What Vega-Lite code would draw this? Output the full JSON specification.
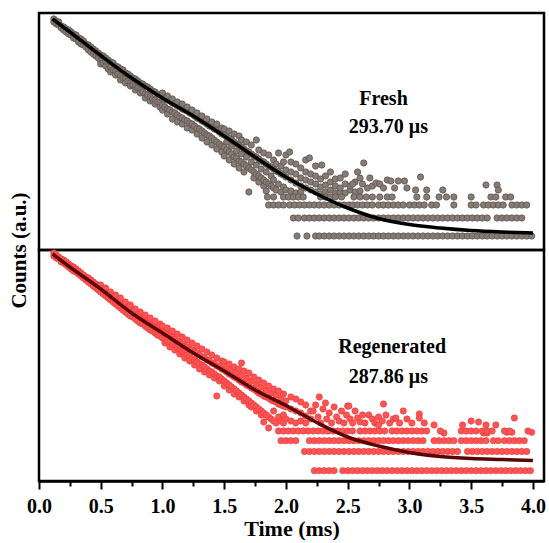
{
"$schema":"https://vega.github.io/schema/vega-lite/v6.json",
"padding":{"left":6,"top":10,"right":3,"bottom":2},
"bounds":"flush",
"spacing":0,
"config":{"view":{"stroke":"#000","strokeWidth":2.5},"font":"Liberation Serif","axis":{"grid":false}},
"datasets":{
"fresh":[
{"t":0.12,"c":231},{"t":0.12,"c":228},{"t":0.14,"c":229},{"t":0.14,"c":226},{"t":0.16,"c":228},{"t":0.16,"c":225},{"t":0.18,"c":224},{"t":0.18,"c":222},{"t":0.2,"c":223},{"t":0.2,"c":220},{"t":0.22,"c":221},{"t":0.22,"c":218},{"t":0.24,"c":220},{"t":0.24,"c":216},{"t":0.26,"c":218},{"t":0.26,"c":215},{"t":0.28,"c":216},{"t":0.28,"c":212},{"t":0.3,"c":215},{"t":0.3,"c":211},{"t":0.32,"c":212},{"t":0.32,"c":208},{"t":0.34,"c":211},{"t":0.34,"c":206},{"t":0.36,"c":209},{"t":0.36,"c":205},{"t":0.38,"c":206},{"t":0.38,"c":203},{"t":0.4,"c":205},{"t":0.4,"c":200},{"t":0.42,"c":203},{"t":0.42,"c":198},{"t":0.44,"c":201},{"t":0.44,"c":196},{"t":0.46,"c":199},{"t":0.46,"c":194},{"t":0.48,"c":197},{"t":0.48,"c":192},
{"t":0.5,"c":195},{"t":0.5,"c":189},{"t":0.5,"c":186},{"t":0.52,"c":194},{"t":0.52,"c":187},{"t":0.54,"c":192},{"t":0.54,"c":184},{"t":0.54,"c":189},{"t":0.56,"c":190},{"t":0.56,"c":181},{"t":0.58,"c":188},{"t":0.58,"c":183},{"t":0.58,"c":178},{"t":0.6,"c":187},{"t":0.6,"c":180},{"t":0.62,"c":184},{"t":0.62,"c":178},{"t":0.62,"c":175},{"t":0.64,"c":183},{"t":0.64,"c":176},{"t":0.66,"c":181},{"t":0.66,"c":174},{"t":0.66,"c":170},{"t":0.68,"c":180},{"t":0.68,"c":172},{"t":0.7,"c":177},{"t":0.7,"c":171},{"t":0.7,"c":167},{"t":0.72,"c":176},{"t":0.72,"c":169},{"t":0.74,"c":174},{"t":0.74,"c":167},{"t":0.74,"c":164},{"t":0.76,"c":172},{"t":0.76,"c":165},{"t":0.78,"c":171},{"t":0.78,"c":163},{"t":0.78,"c":160},{"t":0.8,"c":169},{"t":0.8,"c":162},{"t":0.82,"c":167},{"t":0.82,"c":160},{"t":0.82,"c":157},{"t":0.84,"c":166},{"t":0.84,"c":158},{"t":0.86,"c":164},{"t":0.86,"c":156},{"t":0.86,"c":152},{"t":0.88,"c":163},{"t":0.88,"c":155},{"t":0.9,"c":161},{"t":0.9,"c":153},{"t":0.9,"c":149},{"t":0.92,"c":159},{"t":0.92,"c":151},{"t":0.94,"c":158},{"t":0.94,"c":150},{"t":0.94,"c":146},{"t":0.96,"c":156},{"t":0.96,"c":148},{"t":0.98,"c":155},{"t":0.98,"c":147},{"t":0.98,"c":143},
{"t":1.0,"c":153},{"t":1.0,"c":145},{"t":1.0,"c":140},{"t":1.0,"c":157},{"t":1.02,"c":151},{"t":1.02,"c":143},{"t":1.04,"c":150},{"t":1.04,"c":141},{"t":1.04,"c":136},{"t":1.04,"c":154},{"t":1.06,"c":149},{"t":1.06,"c":140},{"t":1.08,"c":147},{"t":1.08,"c":138},{"t":1.08,"c":131},{"t":1.08,"c":151},{"t":1.1,"c":146},{"t":1.1,"c":137},{"t":1.12,"c":144},{"t":1.12,"c":135},{"t":1.12,"c":128},{"t":1.12,"c":148},{"t":1.14,"c":143},{"t":1.14,"c":133},{"t":1.16,"c":141},{"t":1.16,"c":132},{"t":1.16,"c":126},{"t":1.16,"c":146},{"t":1.18,"c":140},{"t":1.18,"c":130},{"t":1.2,"c":139},{"t":1.2,"c":129},{"t":1.2,"c":122},{"t":1.2,"c":143},{"t":1.22,"c":137},{"t":1.22,"c":127},{"t":1.24,"c":136},{"t":1.24,"c":126},{"t":1.24,"c":120},{"t":1.24,"c":140},{"t":1.26,"c":134},{"t":1.26,"c":124},{"t":1.28,"c":132},{"t":1.28,"c":122},{"t":1.28,"c":116},{"t":1.28,"c":137},{"t":1.3,"c":131},{"t":1.3,"c":121},{"t":1.32,"c":129},{"t":1.32,"c":119},{"t":1.32,"c":112},{"t":1.32,"c":134},{"t":1.34,"c":128},{"t":1.34,"c":117},{"t":1.36,"c":126},{"t":1.36,"c":115},{"t":1.36,"c":108},{"t":1.36,"c":131},{"t":1.38,"c":124},{"t":1.38,"c":114},{"t":1.4,"c":123},{"t":1.4,"c":112},{"t":1.4,"c":105},{"t":1.4,"c":128},{"t":1.42,"c":121},{"t":1.42,"c":110},{"t":1.44,"c":120},{"t":1.44,"c":108},{"t":1.44,"c":101},{"t":1.44,"c":126},{"t":1.46,"c":118},{"t":1.46,"c":106},{"t":1.48,"c":116},{"t":1.48,"c":104},{"t":1.48,"c":98},{"t":1.48,"c":122},
{"t":1.5,"c":115},{"t":1.5,"c":103},{"t":1.5,"c":94},{"t":1.5,"c":121},{"t":1.52,"c":113},{"t":1.52,"c":100},{"t":1.52,"c":108},{"t":1.54,"c":112},{"t":1.54,"c":98},{"t":1.54,"c":90},{"t":1.54,"c":119},{"t":1.56,"c":110},{"t":1.56,"c":96},{"t":1.56,"c":104},{"t":1.58,"c":108},{"t":1.58,"c":93},{"t":1.58,"c":86},{"t":1.58,"c":116},{"t":1.6,"c":106},{"t":1.6,"c":92},{"t":1.6,"c":99},{"t":1.62,"c":105},{"t":1.62,"c":89},{"t":1.62,"c":82},{"t":1.62,"c":114},{"t":1.64,"c":103},{"t":1.64,"c":88},{"t":1.64,"c":96},{"t":1.64,"c":110},{"t":1.66,"c":101},{"t":1.66,"c":86},{"t":1.66,"c":78},{"t":1.68,"c":99},{"t":1.68,"c":84},{"t":1.68,"c":93},{"t":1.68,"c":108},{"t":1.7,"c":98},{"t":1.7,"c":82},{"t":1.7,"c":58},{"t":1.72,"c":96},{"t":1.72,"c":80},{"t":1.72,"c":88},{"t":1.72,"c":105},{"t":1.74,"c":94},{"t":1.74,"c":78},{"t":1.74,"c":72},{"t":1.76,"c":93},{"t":1.76,"c":76},{"t":1.76,"c":85},{"t":1.76,"c":110},{"t":1.78,"c":91},{"t":1.78,"c":74},{"t":1.78,"c":68},{"t":1.78,"c":100},{"t":1.8,"c":89},{"t":1.8,"c":72},{"t":1.8,"c":81},{"t":1.82,"c":88},{"t":1.82,"c":70},{"t":1.82,"c":64},{"t":1.82,"c":97},{"t":1.84,"c":86},{"t":1.84,"c":68},{"t":1.84,"c":78},{"t":1.84,"c":59},{"t":1.86,"c":84},{"t":1.86,"c":66},{"t":1.86,"c":95},{"t":1.88,"c":83},{"t":1.88,"c":64},{"t":1.88,"c":74},{"t":1.9,"c":81},{"t":1.9,"c":62},{"t":1.9,"c":90},{"t":1.9,"c":70},{"t":1.92,"c":79},{"t":1.92,"c":60},{"t":1.92,"c":86},{"t":1.94,"c":78},{"t":1.94,"c":66},{"t":1.94,"c":97},{"t":1.96,"c":76},{"t":1.96,"c":58},{"t":1.96,"c":84},{"t":1.98,"c":75},{"t":1.98,"c":63},{"t":1.98,"c":88},{"t":2.0,"c":73},{"t":2.0,"c":60},{"t":2.0,"c":80},{"t":2.0,"c":95},
{"t":2.04,"c":70},{"t":2.04,"c":59},{"t":2.04,"c":78},{"t":2.04,"c":88},{"t":2.08,"c":67},{"t":2.08,"c":57},{"t":2.08,"c":76},{"t":2.08,"c":86},{"t":2.12,"c":64},{"t":2.12,"c":58},{"t":2.12,"c":72},{"t":2.12,"c":82},{"t":2.16,"c":62},{"t":2.16,"c":70},{"t":2.16,"c":78},{"t":2.16,"c":90},{"t":2.2,"c":60},{"t":2.2,"c":68},{"t":2.2,"c":76},{"t":2.24,"c":58},{"t":2.24,"c":66},{"t":2.24,"c":74},{"t":2.24,"c":84},{"t":2.28,"c":56},{"t":2.28,"c":63},{"t":2.28,"c":71},{"t":2.32,"c":58},{"t":2.32,"c":65},{"t":2.32,"c":74},{"t":2.36,"c":60},{"t":2.36,"c":68},{"t":2.36,"c":78},{"t":2.4,"c":57},{"t":2.4,"c":64},{"t":2.4,"c":71},{"t":2.44,"c":58},{"t":2.44,"c":62},{"t":2.44,"c":72},{"t":2.48,"c":57},{"t":2.48,"c":66},{"t":2.48,"c":76},{"t":2.52,"c":60},{"t":2.52,"c":64},{"t":2.56,"c":58},{"t":2.56,"c":68},{"t":2.6,"c":59},{"t":2.6,"c":72},{"t":2.03,"c":98},{"t":2.19,"c":92},{"t":2.29,"c":85},
{"t":2.63,"c":87},{"t":2.62,"c":66},{"t":2.66,"c":62},{"t":2.68,"c":72},{"t":2.7,"c":64},{"t":2.73,"c":67},{"t":2.76,"c":66},{"t":2.79,"c":62},{"t":2.82,"c":70},{"t":2.85,"c":69},{"t":2.91,"c":69},{"t":2.96,"c":69},{"t":2.88,"c":62},{"t":3.05,"c":60},{"t":3.09,"c":73},{"t":3.14,"c":60},{"t":3.27,"c":60},{"t":3.62,"c":65},{"t":3.71,"c":65},{"t":3.72,"c":60},{"t":2.98,"c":62},{"t":2.58,"c":78},{"t":2.54,"c":66},
{"t":1.85,"c":53},{"t":1.9,"c":53},{"t":1.98,"c":53},{"t":2.02,"c":53},{"t":2.06,"c":53},{"t":2.1,"c":53},{"t":2.14,"c":53},{"t":2.28,"c":53},{"t":2.32,"c":53},{"t":2.36,"c":53},{"t":2.4,"c":53},{"t":2.45,"c":53},{"t":2.55,"c":53},{"t":2.6,"c":53},{"t":2.65,"c":53},{"t":2.7,"c":53},{"t":2.76,"c":53},{"t":2.82,"c":53},{"t":2.86,"c":53},{"t":3.06,"c":53},{"t":3.14,"c":53},{"t":3.24,"c":53},{"t":3.3,"c":53},{"t":3.36,"c":53},{"t":3.5,"c":53},{"t":3.66,"c":53},{"t":3.7,"c":53},{"t":3.78,"c":53},{"t":3.82,"c":53},
{"t":1.86,"c":45},{"t":1.9,"c":45},{"t":1.94,"c":45},{"t":1.98,"c":45},{"t":2.03,"c":45},{"t":2.07,"c":45},{"t":2.11,"c":45},{"t":2.15,"c":45},{"t":2.19,"c":45},{"t":2.23,"c":45},{"t":2.27,"c":45},{"t":2.31,"c":45},{"t":2.35,"c":45},{"t":2.39,"c":45},{"t":2.43,"c":45},{"t":2.47,"c":45},{"t":2.51,"c":45},{"t":2.54,"c":45},{"t":2.58,"c":45},{"t":2.62,"c":45},{"t":2.66,"c":45},{"t":2.7,"c":45},{"t":2.75,"c":45},{"t":2.79,"c":45},{"t":2.83,"c":45},{"t":2.87,"c":45},{"t":2.91,"c":45},{"t":2.95,"c":45},{"t":3.0,"c":45},{"t":3.04,"c":45},{"t":3.08,"c":45},{"t":3.12,"c":45},{"t":3.18,"c":45},{"t":3.22,"c":45},{"t":3.36,"c":45},{"t":3.5,"c":45},{"t":3.54,"c":45},{"t":3.6,"c":45},{"t":3.64,"c":45},{"t":3.68,"c":45},{"t":3.72,"c":45},{"t":3.76,"c":45},{"t":3.83,"c":45},{"t":3.87,"c":45},{"t":3.91,"c":45},{"t":3.95,"c":45},
{"t":2.06,"c":32},{"t":2.1,"c":32},{"t":2.15,"c":32},{"t":2.19,"c":32},{"t":2.23,"c":32},{"t":2.27,"c":32},{"t":2.31,"c":32},{"t":2.35,"c":32},{"t":2.39,"c":32},{"t":2.43,"c":32},{"t":2.47,"c":32},{"t":2.51,"c":32},{"t":2.55,"c":32},{"t":2.59,"c":32},{"t":2.63,"c":32},{"t":2.67,"c":32},{"t":2.71,"c":32},{"t":2.75,"c":32},{"t":2.79,"c":32},{"t":2.83,"c":32},{"t":2.87,"c":32},{"t":2.91,"c":32},{"t":2.95,"c":32},{"t":2.99,"c":32},{"t":3.03,"c":32},{"t":3.07,"c":32},{"t":3.11,"c":32},{"t":3.15,"c":32},{"t":3.19,"c":32},{"t":3.23,"c":32},{"t":3.27,"c":32},{"t":3.31,"c":32},{"t":3.35,"c":32},{"t":3.39,"c":32},{"t":3.43,"c":32},{"t":3.47,"c":32},{"t":3.51,"c":32},{"t":3.55,"c":32},{"t":3.59,"c":32},{"t":3.63,"c":32},{"t":3.71,"c":32},{"t":3.75,"c":32},{"t":3.79,"c":32},{"t":3.83,"c":32},{"t":3.87,"c":32},{"t":3.91,"c":32},
{"t":2.09,"c":14},{"t":2.17,"c":14},{"t":2.24,"c":14},{"t":2.27,"c":14},{"t":2.31,"c":14},{"t":2.35,"c":14},{"t":2.39,"c":14},{"t":2.43,"c":14},{"t":2.47,"c":14},{"t":2.51,"c":14},{"t":2.55,"c":14},{"t":2.59,"c":14},{"t":2.63,"c":14},{"t":2.67,"c":14},{"t":2.71,"c":14},{"t":2.75,"c":14},{"t":2.79,"c":14},{"t":2.83,"c":14},{"t":2.87,"c":14},{"t":2.91,"c":14},{"t":2.95,"c":14},{"t":2.99,"c":14},{"t":3.03,"c":14},{"t":3.07,"c":14},{"t":3.11,"c":14},{"t":3.15,"c":14},{"t":3.19,"c":14},{"t":3.23,"c":14},{"t":3.27,"c":14},{"t":3.31,"c":14},{"t":3.35,"c":14},{"t":3.39,"c":14},{"t":3.43,"c":14},{"t":3.47,"c":14},{"t":3.51,"c":14},{"t":3.55,"c":14},{"t":3.59,"c":14},{"t":3.63,"c":14},{"t":3.67,"c":14},{"t":3.71,"c":14},{"t":3.75,"c":14},{"t":3.79,"c":14},{"t":3.83,"c":14},{"t":3.87,"c":14},{"t":3.91,"c":14},{"t":3.95,"c":14},{"t":3.99,"c":14}
],
"fresh_fit":[{"t":0.11,"c":231},{"t":0.25,"c":218},{"t":0.5,"c":194.5},{"t":0.75,"c":172},{"t":1.0,"c":152},{"t":1.25,"c":134},{"t":1.5,"c":114},{"t":1.75,"c":93},{"t":2.0,"c":73},{"t":2.25,"c":56},{"t":2.5,"c":42},{"t":2.75,"c":31.5},{"t":3.0,"c":25.5},{"t":3.25,"c":22},{"t":3.5,"c":19.5},{"t":3.75,"c":18},{"t":4.0,"c":17}],
"fresh_text":[{"t":2.79,"c":151,"label":"Fresh"},{"t":2.83,"c":123,"label":"293.70 μs"}],
"regen":[
{"t":0.12,"c":228},{"t":0.12,"c":225},{"t":0.14,"c":226},{"t":0.14,"c":223},{"t":0.16,"c":224},{"t":0.16,"c":222},{"t":0.18,"c":222},{"t":0.18,"c":219},{"t":0.2,"c":221},{"t":0.2,"c":218},{"t":0.22,"c":219},{"t":0.22,"c":216},{"t":0.24,"c":217},{"t":0.24,"c":214},{"t":0.26,"c":215},{"t":0.26,"c":212},{"t":0.28,"c":214},{"t":0.28,"c":210},{"t":0.3,"c":212},{"t":0.3,"c":209},{"t":0.32,"c":210},{"t":0.32,"c":207},{"t":0.34,"c":208},{"t":0.34,"c":205},{"t":0.36,"c":206},{"t":0.36,"c":203},{"t":0.38,"c":204},{"t":0.38,"c":201},{"t":0.4,"c":203},{"t":0.4,"c":199},{"t":0.42,"c":201},{"t":0.42,"c":197},{"t":0.44,"c":199},{"t":0.44,"c":195},{"t":0.46,"c":197},{"t":0.46,"c":193},{"t":0.48,"c":195},{"t":0.48,"c":191},
{"t":0.5,"c":194},{"t":0.5,"c":189},{"t":0.5,"c":196},{"t":0.52,"c":192},{"t":0.52,"c":187},{"t":0.54,"c":190},{"t":0.54,"c":185},{"t":0.54,"c":193},{"t":0.56,"c":188},{"t":0.56,"c":183},{"t":0.58,"c":186},{"t":0.58,"c":181},{"t":0.58,"c":189},{"t":0.6,"c":184},{"t":0.6,"c":179},{"t":0.62,"c":182},{"t":0.62,"c":177},{"t":0.62,"c":186},{"t":0.64,"c":180},{"t":0.64,"c":175},{"t":0.66,"c":178},{"t":0.66,"c":173},{"t":0.66,"c":183},{"t":0.68,"c":177},{"t":0.68,"c":171},{"t":0.7,"c":175},{"t":0.7,"c":169},{"t":0.7,"c":179},{"t":0.72,"c":173},{"t":0.72,"c":167},{"t":0.74,"c":171},{"t":0.74,"c":165},{"t":0.74,"c":176},{"t":0.76,"c":169},{"t":0.76,"c":164},{"t":0.78,"c":167},{"t":0.78,"c":162},{"t":0.78,"c":172},{"t":0.8,"c":166},{"t":0.8,"c":160},{"t":0.82,"c":164},{"t":0.82,"c":158},{"t":0.82,"c":169},{"t":0.84,"c":162},{"t":0.84,"c":157},{"t":0.86,"c":161},{"t":0.86,"c":155},{"t":0.86,"c":166},{"t":0.88,"c":159},{"t":0.88,"c":153},{"t":0.9,"c":158},{"t":0.9,"c":151},{"t":0.9,"c":163},{"t":0.92,"c":156},{"t":0.92,"c":150},{"t":0.94,"c":154},{"t":0.94,"c":148},{"t":0.94,"c":160},{"t":0.96,"c":153},{"t":0.96,"c":146},{"t":0.98,"c":151},{"t":0.98,"c":145},{"t":0.98,"c":157},
{"t":1.0,"c":150},{"t":1.0,"c":143},{"t":1.0,"c":155},{"t":1.02,"c":148},{"t":1.02,"c":141},{"t":1.02,"c":138},{"t":1.04,"c":147},{"t":1.04,"c":140},{"t":1.04,"c":153},{"t":1.06,"c":145},{"t":1.06,"c":138},{"t":1.06,"c":134},{"t":1.08,"c":144},{"t":1.08,"c":136},{"t":1.08,"c":150},{"t":1.1,"c":142},{"t":1.1,"c":134},{"t":1.1,"c":131},{"t":1.12,"c":140},{"t":1.12,"c":133},{"t":1.12,"c":147},{"t":1.14,"c":139},{"t":1.14,"c":131},{"t":1.14,"c":127},{"t":1.16,"c":137},{"t":1.16,"c":129},{"t":1.16,"c":144},{"t":1.18,"c":135},{"t":1.18,"c":128},{"t":1.18,"c":123},{"t":1.2,"c":134},{"t":1.2,"c":126},{"t":1.2,"c":141},{"t":1.22,"c":132},{"t":1.22,"c":124},{"t":1.22,"c":120},{"t":1.24,"c":131},{"t":1.24,"c":122},{"t":1.24,"c":138},{"t":1.26,"c":129},{"t":1.26,"c":121},{"t":1.26,"c":116},{"t":1.28,"c":128},{"t":1.28,"c":119},{"t":1.28,"c":135},{"t":1.3,"c":126},{"t":1.3,"c":117},{"t":1.3,"c":112},{"t":1.32,"c":124},{"t":1.32,"c":116},{"t":1.32,"c":132},{"t":1.34,"c":123},{"t":1.34,"c":114},{"t":1.34,"c":109},{"t":1.36,"c":121},{"t":1.36,"c":112},{"t":1.36,"c":129},{"t":1.38,"c":120},{"t":1.38,"c":110},{"t":1.38,"c":106},{"t":1.4,"c":118},{"t":1.4,"c":109},{"t":1.4,"c":126},{"t":1.42,"c":117},{"t":1.42,"c":107},{"t":1.42,"c":103},{"t":1.44,"c":115},{"t":1.44,"c":105},{"t":1.44,"c":123},{"t":1.44,"c":85},{"t":1.46,"c":114},{"t":1.46,"c":104},{"t":1.46,"c":100},{"t":1.48,"c":112},{"t":1.48,"c":102},{"t":1.48,"c":120},
{"t":1.5,"c":111},{"t":1.5,"c":100},{"t":1.5,"c":95},{"t":1.5,"c":119},{"t":1.52,"c":109},{"t":1.52,"c":98},{"t":1.52,"c":115},{"t":1.54,"c":107},{"t":1.54,"c":96},{"t":1.54,"c":91},{"t":1.54,"c":117},{"t":1.56,"c":106},{"t":1.56,"c":94},{"t":1.56,"c":112},{"t":1.58,"c":104},{"t":1.58,"c":92},{"t":1.58,"c":87},{"t":1.58,"c":114},{"t":1.6,"c":103},{"t":1.6,"c":90},{"t":1.6,"c":109},{"t":1.62,"c":101},{"t":1.62,"c":88},{"t":1.62,"c":84},{"t":1.62,"c":112},{"t":1.64,"c":99},{"t":1.64,"c":86},{"t":1.64,"c":106},{"t":1.64,"c":118},{"t":1.66,"c":98},{"t":1.66,"c":84},{"t":1.66,"c":80},{"t":1.66,"c":110},{"t":1.68,"c":96},{"t":1.68,"c":82},{"t":1.68,"c":103},{"t":1.7,"c":95},{"t":1.7,"c":80},{"t":1.7,"c":76},{"t":1.7,"c":108},{"t":1.72,"c":93},{"t":1.72,"c":78},{"t":1.72,"c":100},{"t":1.72,"c":74},{"t":1.74,"c":92},{"t":1.74,"c":76},{"t":1.74,"c":104},{"t":1.76,"c":90},{"t":1.76,"c":74},{"t":1.76,"c":97},{"t":1.76,"c":70},{"t":1.78,"c":88},{"t":1.78,"c":72},{"t":1.78,"c":101},{"t":1.8,"c":87},{"t":1.8,"c":70},{"t":1.8,"c":94},{"t":1.8,"c":66},{"t":1.82,"c":85},{"t":1.82,"c":68},{"t":1.82,"c":98},{"t":1.82,"c":59},{"t":1.84,"c":84},{"t":1.84,"c":66},{"t":1.84,"c":91},{"t":1.86,"c":83},{"t":1.86,"c":64},{"t":1.86,"c":95},{"t":1.86,"c":53},{"t":1.88,"c":81},{"t":1.88,"c":62},{"t":1.88,"c":88},{"t":1.9,"c":80},{"t":1.9,"c":60},{"t":1.9,"c":92},{"t":1.9,"c":70},{"t":1.92,"c":79},{"t":1.92,"c":58},{"t":1.92,"c":86},{"t":1.94,"c":77},{"t":1.94,"c":64},{"t":1.94,"c":90},{"t":1.96,"c":76},{"t":1.96,"c":60},{"t":1.96,"c":83},{"t":1.98,"c":75},{"t":1.98,"c":58},{"t":1.98,"c":87},{"t":1.98,"c":66},{"t":2.0,"c":74},{"t":2.0,"c":62},{"t":2.0,"c":80},{"t":2.04,"c":72},{"t":2.04,"c":60},{"t":2.04,"c":84},{"t":2.08,"c":70},{"t":2.08,"c":58},{"t":2.08,"c":82},{"t":2.12,"c":68},{"t":2.12,"c":60},{"t":2.12,"c":79},{"t":2.16,"c":65},{"t":2.16,"c":58},{"t":2.16,"c":76},{"t":2.2,"c":62},{"t":2.2,"c":70},
{"t":2.22,"c":70},{"t":2.24,"c":76},{"t":2.26,"c":64},{"t":2.27,"c":84},{"t":2.28,"c":58},{"t":2.3,"c":72},{"t":2.32,"c":78},{"t":2.33,"c":62},{"t":2.35,"c":68},{"t":2.37,"c":58},{"t":2.39,"c":74},{"t":2.41,"c":64},{"t":2.43,"c":60},{"t":2.45,"c":70},{"t":2.47,"c":58},{"t":2.49,"c":66},{"t":2.5,"c":75},{"t":2.52,"c":62},{"t":2.54,"c":58},{"t":2.56,"c":70},{"t":2.58,"c":63},{"t":2.6,"c":59},{"t":2.62,"c":66},{"t":2.64,"c":58},{"t":2.67,"c":66},{"t":2.7,"c":62},{"t":2.72,"c":58},{"t":2.75,"c":64},{"t":2.78,"c":60},{"t":2.79,"c":77},{"t":2.81,"c":66},{"t":2.84,"c":58},{"t":2.87,"c":62},{"t":2.89,"c":63},{"t":2.92,"c":58},{"t":2.95,"c":70},{"t":2.98,"c":62},{"t":3.02,"c":58},{"t":3.08,"c":67},{"t":3.08,"c":63},{"t":3.12,"c":58},{"t":3.5,"c":60},{"t":3.56,"c":59},{"t":3.85,"c":63},{"t":2.51,"c":75},
{"t":2.75,"c":56},{"t":3.2,"c":56},{"t":3.43,"c":56},{"t":3.62,"c":56},{"t":3.7,"c":56},{"t":3.28,"c":48},{"t":3.6,"c":48},{"t":3.63,"c":48},{"t":3.79,"c":48.7},{"t":3.83,"c":48.7},{"t":3.99,"c":48.7},
{"t":1.94,"c":50},{"t":1.98,"c":50},{"t":2.02,"c":50},{"t":2.06,"c":50},{"t":2.1,"c":50},{"t":2.14,"c":50},{"t":2.18,"c":50},{"t":2.22,"c":50},{"t":2.26,"c":50},{"t":2.3,"c":50},{"t":2.34,"c":50},{"t":2.38,"c":50},{"t":2.42,"c":50},{"t":2.46,"c":50},{"t":2.5,"c":50},{"t":2.54,"c":50},{"t":2.6,"c":50},{"t":2.64,"c":50},{"t":2.68,"c":50},{"t":2.72,"c":50},{"t":2.76,"c":50},{"t":2.8,"c":50},{"t":2.86,"c":50},{"t":2.9,"c":50},{"t":2.94,"c":50},{"t":2.98,"c":50},{"t":3.02,"c":50},{"t":3.06,"c":50},{"t":3.1,"c":50},{"t":3.14,"c":50},{"t":3.25,"c":50},{"t":3.42,"c":50},{"t":3.46,"c":50},{"t":3.5,"c":50},{"t":3.54,"c":50},{"t":3.59,"c":50},{"t":3.63,"c":50},{"t":3.67,"c":50},{"t":3.77,"c":50},{"t":3.81,"c":50},{"t":3.96,"c":50},
{"t":1.96,"c":40.3},{"t":2.0,"c":40.3},{"t":2.04,"c":40.3},{"t":2.08,"c":40.3},{"t":2.19,"c":40.3},{"t":2.23,"c":40.3},{"t":2.27,"c":40.3},{"t":2.31,"c":40.3},{"t":2.35,"c":40.3},{"t":2.39,"c":40.3},{"t":2.43,"c":40.3},{"t":2.47,"c":40.3},{"t":2.51,"c":40.3},{"t":2.55,"c":40.3},{"t":2.59,"c":40.3},{"t":2.63,"c":40.3},{"t":2.67,"c":40.3},{"t":2.71,"c":40.3},{"t":2.75,"c":40.3},{"t":2.79,"c":40.3},{"t":2.83,"c":40.3},{"t":2.87,"c":40.3},{"t":2.91,"c":40.3},{"t":2.95,"c":40.3},{"t":2.99,"c":40.3},{"t":3.03,"c":40.3},{"t":3.07,"c":40.3},{"t":3.11,"c":40.3},{"t":3.2,"c":40.3},{"t":3.24,"c":40.3},{"t":3.28,"c":40.3},{"t":3.32,"c":40.3},{"t":3.36,"c":40.3},{"t":3.42,"c":40.3},{"t":3.46,"c":40.3},{"t":3.5,"c":40.3},{"t":3.54,"c":40.3},{"t":3.58,"c":40.3},{"t":3.62,"c":40.3},{"t":3.68,"c":40.3},{"t":3.72,"c":40.3},{"t":3.77,"c":40.3},{"t":3.81,"c":40.3},{"t":3.85,"c":40.3},{"t":3.89,"c":40.3},{"t":3.93,"c":40.3},
{"t":2.15,"c":29.5},{"t":2.19,"c":29.5},{"t":2.23,"c":29.5},{"t":2.27,"c":29.5},{"t":2.31,"c":29.5},{"t":2.35,"c":29.5},{"t":2.39,"c":29.5},{"t":2.43,"c":29.5},{"t":2.47,"c":29.5},{"t":2.51,"c":29.5},{"t":2.55,"c":29.5},{"t":2.59,"c":29.5},{"t":2.63,"c":29.5},{"t":2.67,"c":29.5},{"t":2.71,"c":29.5},{"t":2.75,"c":29.5},{"t":2.79,"c":29.5},{"t":2.83,"c":29.5},{"t":2.87,"c":29.5},{"t":2.91,"c":29.5},{"t":2.95,"c":29.5},{"t":2.99,"c":29.5},{"t":3.03,"c":29.5},{"t":3.07,"c":29.5},{"t":3.11,"c":29.5},{"t":3.15,"c":29.5},{"t":3.19,"c":29.5},{"t":3.23,"c":29.5},{"t":3.27,"c":29.5},{"t":3.31,"c":29.5},{"t":3.35,"c":29.5},{"t":3.39,"c":29.5},{"t":3.47,"c":29.5},{"t":3.51,"c":29.5},{"t":3.55,"c":29.5},{"t":3.59,"c":29.5},{"t":3.63,"c":29.5},{"t":3.67,"c":29.5},{"t":3.71,"c":29.5},{"t":3.75,"c":29.5},{"t":3.79,"c":29.5},{"t":3.83,"c":29.5},{"t":3.87,"c":29.5},{"t":3.91,"c":29.5},{"t":3.95,"c":29.5},
{"t":2.23,"c":10.3},{"t":2.27,"c":10.3},{"t":2.31,"c":10.3},{"t":2.35,"c":10.3},{"t":2.39,"c":10.3},{"t":2.46,"c":10.3},{"t":2.5,"c":10.3},{"t":2.54,"c":10.3},{"t":2.58,"c":10.3},{"t":2.62,"c":10.3},{"t":2.66,"c":10.3},{"t":2.7,"c":10.3},{"t":2.74,"c":10.3},{"t":2.78,"c":10.3},{"t":2.82,"c":10.3},{"t":2.86,"c":10.3},{"t":2.9,"c":10.3},{"t":2.94,"c":10.3},{"t":2.98,"c":10.3},{"t":3.02,"c":10.3},{"t":3.06,"c":10.3},{"t":3.1,"c":10.3},{"t":3.14,"c":10.3},{"t":3.18,"c":10.3},{"t":3.22,"c":10.3},{"t":3.26,"c":10.3},{"t":3.3,"c":10.3},{"t":3.34,"c":10.3},{"t":3.38,"c":10.3},{"t":3.42,"c":10.3},{"t":3.46,"c":10.3},{"t":3.5,"c":10.3},{"t":3.54,"c":10.3},{"t":3.58,"c":10.3},{"t":3.62,"c":10.3},{"t":3.66,"c":10.3},{"t":3.7,"c":10.3},{"t":3.74,"c":10.3},{"t":3.78,"c":10.3},{"t":3.82,"c":10.3},{"t":3.86,"c":10.3},{"t":3.9,"c":10.3},{"t":3.94,"c":10.3},{"t":3.98,"c":10.3}
],
"regen_fit":[{"t":0.11,"c":227},{"t":0.25,"c":214},{"t":0.5,"c":192},{"t":0.75,"c":168},{"t":1.0,"c":148},{"t":1.25,"c":128},{"t":1.5,"c":110},{"t":1.75,"c":91},{"t":2.0,"c":75.5},{"t":2.25,"c":58.5},{"t":2.5,"c":44},{"t":2.75,"c":35},{"t":3.0,"c":28.5},{"t":3.25,"c":24.5},{"t":3.5,"c":22.5},{"t":3.75,"c":21.5},{"t":4.0,"c":20.5}],
"regen_text":[{"t":2.86,"c":134,"label":"Regenerated"},{"t":2.83,"c":104,"label":"287.86 μs"}],
"minor":[{"t":0.25},{"t":0.75},{"t":1.25},{"t":1.75},{"t":2.25},{"t":2.75},{"t":3.25},{"t":3.75}]
},
"vconcat":[
{"width":505,"height":237,
 "encoding":{
  "x":{"field":"t","type":"quantitative","scale":{"domain":[0,4.09],"nice":false,"zero":false},"axis":null},
  "y":{"field":"c","type":"quantitative","scale":{"domain":[0,237],"nice":false},"axis":{"title":"Counts (a.u.)","labels":false,"ticks":false,"domain":false,"titleY":237,"titleFontSize":21,"titleFontWeight":"bold","titleColor":"#000","titlePadding":10,"titleFont":"Liberation Serif"}}
 },
 "layer":[
  {"data":{"name":"fresh"},"mark":{"type":"circle","size":40,"fill":"#867b75","stroke":"#5a504b","strokeWidth":0.7,"opacity":1}},
  {"data":{"name":"fresh_fit"},"mark":{"type":"line","color":"#000","strokeWidth":3.5,"interpolate":"monotone"}},
  {"data":{"name":"fresh_text"},"mark":{"type":"text","font":"Liberation Serif","fontWeight":"bold","fontSize":20,"color":"#000"},"encoding":{"text":{"field":"label"}}}
 ]
},
{"width":505,"height":231,
 "layer":[
  {"data":{"name":"regen"},"mark":{"type":"circle","size":40,"fill":"#ff5454","stroke":"#e63b3b","strokeWidth":0.6,"opacity":1},
   "encoding":{
    "x":{"field":"t","type":"quantitative","scale":{"domain":[0,4.09],"nice":false,"zero":false},"axis":{"orient":"bottom","values":[0,0.5,1,1.5,2,2.5,3,3.5,4],"format":".1f","title":"Time (ms)","labelFont":"Liberation Serif","labelFontSize":20,"labelFontWeight":"bold","labelColor":"#000","tickColor":"#000","tickWidth":2,"tickSize":8,"labelPadding":7,"domainColor":"#000","domainWidth":2.5,"titleFont":"Liberation Serif","titleFontSize":22,"titleFontWeight":"bold","titleColor":"#000","titlePadding":2,"labelFlush":false}},
    "y":{"field":"c","type":"quantitative","scale":{"domain":[0,231],"nice":false},"axis":null}}},
  {"data":{"name":"regen_fit"},"mark":{"type":"line","color":"#5a0606","strokeWidth":3.5,"interpolate":"monotone"},
   "encoding":{"x":{"field":"t","type":"quantitative","axis":null},"y":{"field":"c","type":"quantitative","axis":null}}},
  {"data":{"name":"regen_text"},"mark":{"type":"text","font":"Liberation Serif","fontWeight":"bold","fontSize":20,"color":"#000"},
   "encoding":{"x":{"field":"t","type":"quantitative","axis":null},"y":{"field":"c","type":"quantitative","axis":null},"text":{"field":"label"}}},
  {"data":{"name":"minor"},"mark":{"type":"tick","opacity":0},
   "encoding":{"x":{"field":"t","type":"quantitative","axis":{"orient":"bottom","values":[0.25,0.75,1.25,1.75,2.25,2.75,3.25,3.75],"labels":false,"domain":false,"title":null,"tickColor":"#000","tickWidth":2,"tickSize":5}},"y":{"value":0}}}
 ],
 "resolve":{"axis":{"x":"independent"}}
}
]
}
